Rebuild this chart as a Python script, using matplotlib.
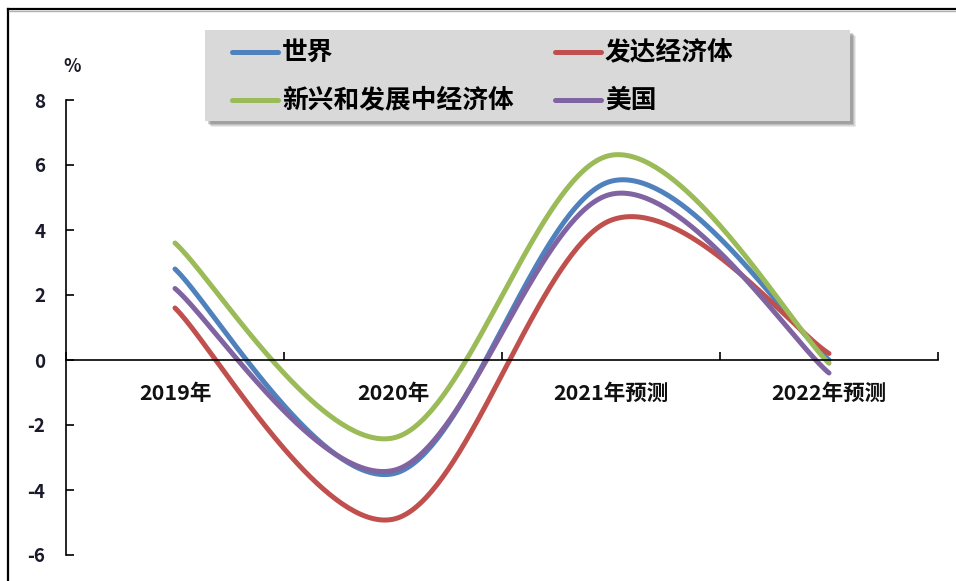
import numpy as np
import matplotlib
matplotlib.use("Agg")
import matplotlib.pyplot as plt
from matplotlib.lines import Line2D
from matplotlib.patches import Rectangle

plt.rcParams['font.family'] = ['Noto Sans CJK SC', 'DejaVu Sans']
plt.rcParams['font.weight'] = 'bold'

# GDP growth, %
categories = ['2019年', '2020年', '2021年预测', '2022年预测']
series_names = ['世界', '发达经济体', '新兴和发展中经济体', '美国']
world = [2.8, -3.5, 5.5, 0.0]
advanced = [1.6, -4.9, 4.3, 0.2]
emerging = [3.6, -2.4, 6.3, -0.1]
usa = [2.2, -3.4, 5.1, -0.4]
colors = ['#4F81BD', '#C0504D', '#9BBB59', '#8064A2']
yticks = [-6, -4, -2, 0, 2, 4, 6, 8]


def smooth(xs, ys, n=80):
    # Catmull-Rom through the points, same idea as a "smoothed line" chart
    p = np.column_stack([xs, ys]).astype(float)
    p = np.vstack([p[0], p, p[-1]])
    out = []
    t = np.linspace(0, 1, n)[:, None]
    for i in range(1, len(p) - 2):
        p0, p1, p2, p3 = p[i - 1], p[i], p[i + 1], p[i + 2]
        c1 = p1 + (p2 - p0) / 6
        c2 = p2 - (p3 - p1) / 6
        seg = ((1 - t) ** 3 * p1 + 3 * (1 - t) ** 2 * t * c1
               + 3 * (1 - t) * t ** 2 * c2 + t ** 3 * p2)
        out.append(seg if i == 1 else seg[1:])
    out = np.vstack(out)
    return out[:, 0], out[:, 1]


fig = plt.figure(figsize=(9.56, 5.81), dpi=100)
ax = fig.add_axes([66 / 956, 26 / 581, 872 / 956, 455 / 581])

xpos = np.arange(len(categories)) + 0.5
for vals, c in zip([world, advanced, emerging, usa], colors):
    sx, sy = smooth(xpos, vals)
    ax.plot(sx, sy, color=c, lw=3.6, solid_capstyle='round')

ax.set_xlim(0, len(categories))
ax.set_ylim(-6, 8)
ax.spines['top'].set_visible(False)
ax.spines['right'].set_visible(False)
ax.spines['bottom'].set_position(('data', 0))
ax.spines['left'].set_linewidth(1.2)
ax.spines['bottom'].set_linewidth(1.2)

ax.set_xticks(np.arange(len(categories) + 1))
ax.set_xticklabels([])
ax.tick_params(axis='x', direction='in', length=6, width=1.2)
ax.set_yticks(yticks)
ax.set_yticklabels([str(v) for v in yticks], fontsize=13.5, fontweight='bold',
                   color='#1a1a2a')
ax.tick_params(axis='y', direction='in', length=6, width=1.2, pad=15)

for x, lab in zip(xpos, categories):
    ax.text(x, -1.02, lab, ha='center', va='center', fontsize=15.5,
            fontweight='bold', color='#111111')

fig.text(72 / 956, 1 - 66 / 581, '%', ha='center', va='center',
         fontsize=13, fontweight='bold', color='#1a1a2a')

# outer frame (left and top edges)
fig.add_artist(Line2D([8 / 956, 8 / 956], [0, 1 - 9 / 581],
                      transform=fig.transFigure, color='black', lw=1.6))
fig.add_artist(Line2D([8 / 956, 1], [1 - 9 / 581, 1 - 9 / 581],
                      transform=fig.transFigure, color='black', lw=1.6))
fig.add_artist(Line2D([9 / 956, 1], [1 - 11 / 581, 1 - 11 / 581],
                      transform=fig.transFigure, color='#b0b0b0', lw=1.0))

# legend box with drop shadow
W, H = 956, 581
bx0, by0, bx1, by1 = 205, 30, 850, 121
for k, a in enumerate([0.10, 0.12, 0.16, 0.22]):
    off = 6 - k
    fig.add_artist(Rectangle(((bx0 + off) / W, 1 - (by1 + off) / H),
                             (bx1 - bx0) / W, (by1 - by0) / H,
                             transform=fig.transFigure, facecolor='#404040',
                             edgecolor='none', alpha=a))
fig.add_artist(Rectangle((bx0 / W, 1 - by1 / H), (bx1 - bx0) / W,
                         (by1 - by0) / H, transform=fig.transFigure,
                         facecolor='#D9D9D9', edgecolor='none'))

leg_pos = [(232, 52), (555, 52), (232, 100), (555, 100)]
for (lx, ly), name, c in zip(leg_pos, series_names, colors):
    fig.add_artist(Line2D([lx / W, (lx + 46) / W], [1 - ly / H, 1 - ly / H],
                          transform=fig.transFigure, color=c, lw=3.6,
                          solid_capstyle='round'))
    fig.text((lx + 50) / W, 1 - ly / H, name, ha='left', va='center',
             fontsize=18.5, fontweight='bold', color='black')

fig.savefig('out.png', dpi=100)
